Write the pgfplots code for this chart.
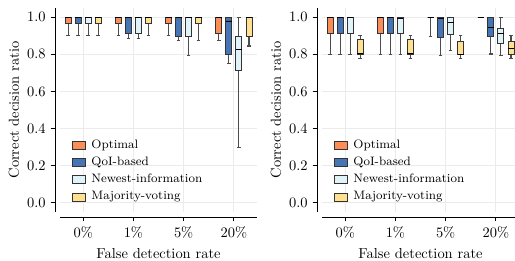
\documentclass[border=0pt]{standalone}
\usepackage{pgfplots}
\pgfplotsset{compat=1.18}
\usepgfplotslibrary{statistics}
\definecolor{cOpt}{HTML}{FC8D59}
\definecolor{cQoI}{HTML}{4575B4}
\definecolor{cNew}{HTML}{E0F3F8}
\definecolor{cMaj}{HTML}{FEE090}
\definecolor{cGrid}{HTML}{EBEBEB}
\newcommand{\bx}[7]{\addplot[boxplot prepared={draw position=#2, lower whisker=#3, lower quartile=#4, median=#5, upper quartile=#6, upper whisker=#7}, fill=#1, draw=black!80, line width=0.6pt, forget plot] coordinates {};}
\newcommand{\legs}{%
  \addlegendimage{legend image code/.code={\path[draw=none,fill=none] (0pt,0pt) -- (13.1pt,0pt);\draw[fill=cOpt,draw=black!80,line width=0.6pt] (0pt,-2.75pt) rectangle (8.7pt,2.75pt);}}\addlegendentry{Optimal}
  \addlegendimage{legend image code/.code={\path[draw=none,fill=none] (0pt,0pt) -- (13.1pt,0pt);\draw[fill=cQoI,draw=black!80,line width=0.6pt] (0pt,-2.75pt) rectangle (8.7pt,2.75pt);}}\addlegendentry{QoI-based}
  \addlegendimage{legend image code/.code={\path[draw=none,fill=none] (0pt,0pt) -- (13.1pt,0pt);\draw[fill=cNew,draw=black!80,line width=0.6pt] (0pt,-2.75pt) rectangle (8.7pt,2.75pt);}}\addlegendentry{Newest-information}
  \addlegendimage{legend image code/.code={\path[draw=none,fill=none] (0pt,0pt) -- (13.1pt,0pt);\draw[fill=cMaj,draw=black!80,line width=0.6pt] (0pt,-2.75pt) rectangle (8.7pt,2.75pt);}}\addlegendentry{Majority-voting}
}
\pgfplotsset{
  mybox/.style={
    scale only axis, width=136.1pt, height=141pt,
    xmin=-0.46, xmax=3.46, ymin=-0.05, ymax=1.05,
    axis x line*=bottom, axis y line*=left,
    axis x line shift=3.5pt, axis y line shift=3.5pt,
    axis line style={black, line width=0.6pt, -},
    tick align=outside, major tick length=3pt,
    tick style={black, line width=0.6pt},
    xtick={0,1,2,3}, xticklabels={0\%,1\%,5\%,20\%},
    ytick={0,0.2,0.4,0.6,0.8,1.0},
    yticklabel style={/pgf/number format/.cd,fixed,fixed zerofill,precision=1},
    grid=major, major grid style={draw=cGrid, line width=0.6pt},
    xlabel={False detection rate}, ylabel={Correct decision ratio},
    ylabel style={yshift=-1.5pt},
    boxplot/draw direction=y,
    boxplot/box extend=0.12, boxplot/whisker extend=0.07,
    boxplot/every whisker/.style={black!70, line width=0.75pt},
    boxplot/every median/.style={black, line width=0.6pt},
    legend style={at={(0.0595,0.04)}, anchor=south west, draw=none, fill=none, inner sep=0pt, row sep=2.9pt,
      font=\fontsize{8.45}{10}\selectfont,
      nodes={inner sep=0pt, text height=6.5pt, text depth=2.5pt}},
    legend cell align=left,
  }
}
\begin{document}
\begin{tikzpicture}
\begin{axis}[mybox]
\bx{cOpt}{-0.3}{0.90}{0.964}{1}{1}{1}
\bx{cQoI}{-0.1}{0.90}{0.964}{1}{1}{1}
\bx{cNew}{0.1}{0.90}{0.964}{1}{1}{1}
\bx{cMaj}{0.3}{0.90}{0.964}{1}{1}{1}
\bx{cOpt}{0.7}{0.90}{0.964}{1}{1}{1}
\bx{cQoI}{0.9}{0.886}{0.913}{1}{1}{1}
\bx{cNew}{1.1}{0.886}{0.913}{1}{1}{1}
\bx{cMaj}{1.3}{0.90}{0.964}{1}{1}{1}
\bx{cOpt}{1.7}{0.90}{0.964}{1}{1}{1}
\bx{cQoI}{1.9}{0.877}{0.898}{1}{1}{1}
\bx{cNew}{2.1}{0.793}{0.898}{1}{1}{1}
\bx{cMaj}{2.3}{0.873}{0.964}{1}{1}{1}
\bx{cOpt}{2.7}{0.873}{0.911}{1}{1}{1}
\bx{cQoI}{2.9}{0.749}{0.802}{0.98}{1}{1}
\bx{cNew}{3.1}{0.298}{0.715}{0.827}{0.898}{1}
\bx{cMaj}{3.3}{0.845}{0.898}{1}{1}{1}
\legs
\end{axis}
\begin{axis}[mybox, at={(181.06pt,0pt)}]
\bx{cOpt}{-0.3}{0.80}{0.911}{1}{1}{1}
\bx{cQoI}{-0.1}{0.80}{0.911}{1}{1}{1}
\bx{cNew}{0.1}{0.80}{0.911}{1}{1}{1}
\bx{cMaj}{0.3}{0.777}{0.802}{0.806}{0.882}{0.90}
\bx{cOpt}{0.7}{0.80}{0.911}{1}{1}{1}
\bx{cQoI}{0.9}{0.80}{0.911}{1}{1}{1}
\bx{cNew}{1.1}{0.80}{0.911}{0.993}{1}{1}
\bx{cMaj}{1.3}{0.777}{0.802}{0.806}{0.882}{0.90}
\bx{cOpt}{1.7}{0.898}{1}{1}{1}{1}
\bx{cQoI}{1.9}{0.793}{0.889}{0.993}{1}{1}
\bx{cNew}{2.1}{0.823}{0.908}{0.970}{1}{1}
\bx{cMaj}{2.3}{0.779}{0.798}{0.80}{0.868}{0.90}
\bx{cOpt}{2.7}{1}{1}{1}{1}{1}
\bx{cQoI}{2.9}{0.802}{0.899}{0.947}{1}{1}
\bx{cNew}{3.1}{0.793}{0.859}{0.911}{0.940}{1}
\bx{cMaj}{3.3}{0.779}{0.80}{0.833}{0.868}{0.90}
\legs
\end{axis}
\pgfresetboundingbox
\path[use as bounding box] (-41.5pt,-33.2pt) rectangle (314.4pt,146.5pt);
\end{tikzpicture}
\end{document}
